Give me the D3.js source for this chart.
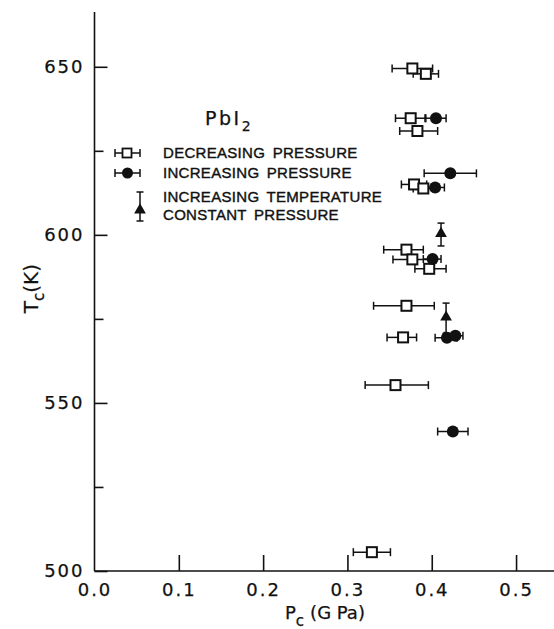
<!DOCTYPE html>
<html>
<head>
<meta charset="utf-8">
<script src="https://cdn.jsdelivr.net/npm/d3@7/dist/d3.min.js"></script>
<style>
  html, body { margin: 0; padding: 0; background: #fff; }
  svg { display: block; }
  .tick text { font-family: "DejaVu Sans", sans-serif; font-size: 18px; letter-spacing: 2px; fill: #111; stroke: #111; stroke-width: 0.25px; }
  .lab { font-family: "DejaVu Sans", sans-serif; fill: #111; stroke: #111; stroke-width: 0.25px; }
  .leg { font-family: "Liberation Sans", Arial, sans-serif; font-size: 15px; letter-spacing: 0.3px; word-spacing: 3px; fill: #111; stroke: #111; stroke-width: 0.4px; }
</style>
</head>
<body>
<script>
// PbI2: transition temperature T_c versus transition pressure P_c

// Decreasing pressure (open squares): P_c [GPa], T_c [K], error-bar ends [GPa]
const decP  = [0.377, 0.393, 0.375, 0.383, 0.379, 0.390, 0.370, 0.377, 0.397, 0.370, 0.366, 0.357, 0.329];
const decT  = [649.5, 647.9, 634.7, 630.9, 615.0, 613.8, 595.6, 592.7, 589.9, 578.9, 569.5, 555.3, 505.6];
const decLo = [0.353, 0.378, 0.357, 0.362, 0.364, 0.378, 0.343, 0.354, 0.380, 0.331, 0.347, 0.321, 0.307];
const decHi = [0.401, 0.408, 0.393, 0.407, 0.394, 0.402, 0.390, 0.400, 0.417, 0.403, 0.382, 0.396, 0.351];

// Increasing pressure (filled circles)
const incP  = [0.405, 0.422, 0.404, 0.401, 0.418, 0.428, 0.425];
const incT  = [634.7, 618.3, 614.1, 592.8, 569.4, 570.0, 541.5];
const incLo = [0.392, 0.391, 0.393, 0.390, 0.404, 0.415, 0.407];
const incHi = [0.417, 0.453, 0.415, 0.411, 0.430, 0.437, 0.443];

// Increasing temperature at constant pressure (triangles), vertical error [K]
const tmpP   = [0.411, 0.417];
const tmpT   = [600.1, 575.2];
const tmpErr = [3.4, 4.5];

// Axis ticks
const xTicks = [0.0, 0.1, 0.2, 0.3, 0.4, 0.5];
const yMajor = [500, 550, 600, 650];
const yMinor = [525, 575, 625];

const legendLabels = ["DECREASING PRESSURE", "INCREASING PRESSURE", "INCREASING TEMPERATURE", "CONSTANT PRESSURE"];

const W = 554, H = 629;
const svg = d3.select("body").append("svg").attr("width", W).attr("height", H);

const x = d3.scaleLinear().domain([0, 0.545]).range([94.5, 554]);
const y = d3.scaleLinear().domain([500, 666.3]).range([571, 12]);

// Axes with inward ticks
const gx = svg.append("g").attr("transform", `translate(0,${y(500)})`)
  .call(d3.axisBottom(x).tickValues(xTicks).tickFormat(d3.format(".1f"))
        .tickSizeInner(-16).tickSizeOuter(0).tickPadding(12));
const gy = svg.append("g").attr("transform", `translate(${x(0)},0)`)
  .call(d3.axisLeft(y).tickValues(yMajor).tickFormat(d3.format("d"))
        .tickSizeInner(-13).tickSizeOuter(0).tickPadding(10));
const gyMinor = svg.append("g").attr("transform", `translate(${x(0)},0)`)
  .call(d3.axisLeft(y).tickValues(yMinor).tickFormat("").tickSizeInner(-9).tickSizeOuter(0));

[gx, gy, gyMinor].forEach(g => {
  g.select(".domain").attr("stroke", "#111").attr("stroke-width", 1.6);
  g.selectAll(".tick line").attr("stroke", "#111").attr("stroke-width", 1.6);
});
gx.selectAll(".tick").filter(d => d === 0).select("line").remove();
gx.select(".domain").attr("d", `M${x(0)},0H${W}`);
gy.select(".domain").attr("d", `M0,${y(500)}V${y(666.3)}`);
gyMinor.select(".domain").remove();

// Axis titles
const yt = svg.append("text").attr("class", "lab").attr("font-size", 20)
  .attr("transform", `translate(38,${y(584)}) rotate(-90)`).attr("text-anchor", "middle");
yt.append("tspan").text("T");
yt.append("tspan").attr("font-size", 15).attr("dy", 6).text("c");
yt.append("tspan").attr("dy", -6).text("(K)");

const xt = svg.append("text").attr("class", "lab").attr("font-size", 18)
  .attr("x", 285).attr("y", 619);
xt.append("tspan").text("P");
xt.append("tspan").attr("font-size", 15).attr("dy", 7).text("c");
xt.append("tspan").attr("dy", -7).attr("dx", 6).text("(G Pa)");

// Compound name
const nm = svg.append("text").attr("class", "lab").attr("font-size", 19)
  .attr("letter-spacing", 2.5).attr("x", 205).attr("y", 125);
nm.append("tspan").text("PbI");
nm.append("tspan").attr("font-size", 14).attr("dy", 6).text("2");

const ink = "#111";
const capH = 4;

// Horizontal error bars
function hBars(P, T, lo, hi) {
  const g = svg.append("g").attr("stroke", ink).attr("stroke-width", 1.5).attr("fill", "none");
  P.forEach((p, i) => {
    const yy = y(T[i]);
    g.append("line").attr("x1", x(lo[i])).attr("x2", x(hi[i])).attr("y1", yy).attr("y2", yy);
    g.append("line").attr("x1", x(lo[i])).attr("x2", x(lo[i])).attr("y1", yy - capH).attr("y2", yy + capH);
    g.append("line").attr("x1", x(hi[i])).attr("x2", x(hi[i])).attr("y1", yy - capH).attr("y2", yy + capH);
  });
}
hBars(decP, decT, decLo, decHi);
hBars(incP, incT, incLo, incHi);

// Open squares
svg.append("g").selectAll("rect").data(decP).join("rect")
  .attr("x", (d) => x(d) - 5).attr("y", (d, i) => y(decT[i]) - 5)
  .attr("width", 10).attr("height", 10)
  .attr("fill", "#fff").attr("stroke", ink).attr("stroke-width", 2);

// Filled circles
svg.append("g").selectAll("circle").data(incP).join("circle")
  .attr("cx", d => x(d)).attr("cy", (d, i) => y(incT[i])).attr("r", 6).attr("fill", ink);

// Triangles with vertical error bars
const tri = d3.symbol().type(d3.symbolTriangle).size(60);
const gt = svg.append("g");
tmpP.forEach((p, i) => {
  const xx = x(p), y1 = y(tmpT[i] + tmpErr[i]), y2 = y(tmpT[i] - tmpErr[i]);
  gt.append("line").attr("x1", xx).attr("x2", xx).attr("y1", y1).attr("y2", y2).attr("stroke", ink).attr("stroke-width", 1.5);
  gt.append("line").attr("x1", xx - 3.5).attr("x2", xx + 3.5).attr("y1", y1).attr("y2", y1).attr("stroke", ink).attr("stroke-width", 1.5);
  gt.append("line").attr("x1", xx - 3.5).attr("x2", xx + 3.5).attr("y1", y2).attr("y2", y2).attr("stroke", ink).attr("stroke-width", 1.5);
  gt.append("path").attr("d", tri).attr("transform", `translate(${xx},${y(tmpT[i]) - 1})`).attr("fill", ink);
});

// Legend
const lg = svg.append("g");
const rowY = [153, 173, 197, 215];
[0, 1].forEach(r => {
  const yy = rowY[r];
  lg.append("line").attr("x1", 115).attr("x2", 140).attr("y1", yy).attr("y2", yy).attr("stroke", ink).attr("stroke-width", 1.5);
  lg.append("line").attr("x1", 115).attr("x2", 115).attr("y1", yy - capH).attr("y2", yy + capH).attr("stroke", ink).attr("stroke-width", 1.5);
  lg.append("line").attr("x1", 140).attr("x2", 140).attr("y1", yy - capH).attr("y2", yy + capH).attr("stroke", ink).attr("stroke-width", 1.5);
});
lg.append("rect").attr("x", 122.5).attr("y", rowY[0] - 4.5).attr("width", 9).attr("height", 9)
  .attr("fill", "#fff").attr("stroke", ink).attr("stroke-width", 1.8);
lg.append("circle").attr("cx", 127.5).attr("cy", rowY[1]).attr("r", 5.5).attr("fill", ink);
lg.append("line").attr("x1", 140).attr("x2", 140).attr("y1", 192).attr("y2", 221).attr("stroke", ink).attr("stroke-width", 1.5);
lg.append("line").attr("x1", 136.5).attr("x2", 143.5).attr("y1", 192).attr("y2", 192).attr("stroke", ink).attr("stroke-width", 1.5);
lg.append("line").attr("x1", 136.5).attr("x2", 143.5).attr("y1", 221).attr("y2", 221).attr("stroke", ink).attr("stroke-width", 1.5);
lg.append("path").attr("d", tri).attr("transform", `translate(140,210)`).attr("fill", ink);

lg.selectAll("text.leg").data(legendLabels).join("text").attr("class", "leg")
  .attr("x", 163).attr("y", (d, i) => rowY[i] + 5.4).text(d => d);
</script>
</body>
</html>
